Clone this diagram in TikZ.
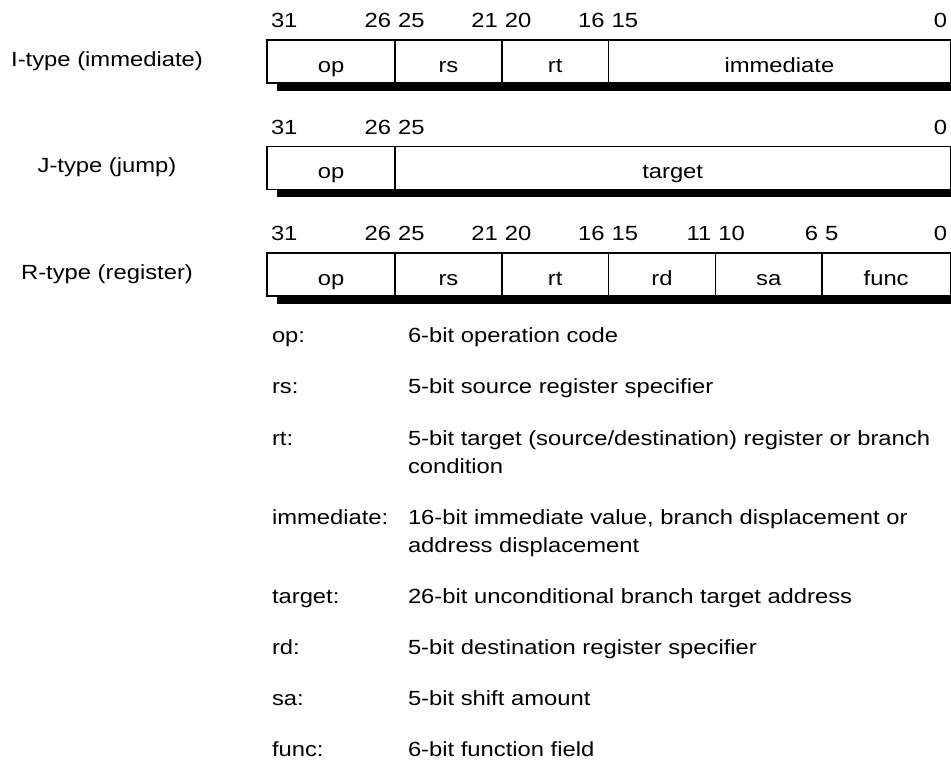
\documentclass[tikz,border=0pt]{standalone}
\usepackage{fontspec}
\setmainfont{Liberation Sans}[FakeStretch=1.16]
\begin{document}
\begin{tikzpicture}[x=1pt,y=-1pt,
  every node/.append style={font=\fontsize{20.5}{24}\selectfont, inner sep=0pt, outer sep=0pt},
  fld/.style={draw, line width=1.3pt, anchor=north west, minimum height=43pt, text height=21.5pt, text depth=0pt},
  shadowbar/.style={fill=black},
  num/.style={anchor=base west},
  numr/.style={anchor=base east},
  typelab/.style={anchor=base},
  desc/.style={anchor=base west}]
\useasboundingbox (0,0) rectangle (951,767);
\def\u{21.35}
\def\xl{267}
% ---------- I-type ----------
\def\top{40}
\fill[shadowbar] (\xl+10,\top+43) rectangle (951,\top+51);
\node[fld, minimum width=6*\u] (iop) at (\xl,\top) {op};
\node[fld, minimum width=5*\u] (irs) at (\xl+6*\u,\top) {rs};
\node[fld, minimum width=5*\u] (irt) at (\xl+11*\u,\top) {rt};
\node[fld, minimum width=16*\u] (iimm) at (\xl+16*\u,\top) {immediate};
\node[typelab] (ilab) at (107,\top+26.5) {I-type (immediate)};
\node[num] (i31) at (\xl+4,\top-12) {31};
\node[numr] (i26) at (\xl+6*\u-4,\top-12) {26};
\node[num] (i25) at (\xl+6*\u+3,\top-12) {25};
\node[numr] (i21) at (\xl+11*\u-4,\top-12) {21};
\node[num] (i20) at (\xl+11*\u+3,\top-12) {20};
\node[numr] (i16) at (\xl+16*\u-4,\top-12) {16};
\node[num] (i15) at (\xl+16*\u+3,\top-12) {15};
\node[numr] (i0) at (\xl+32*\u-3,\top-12) {0};
% ---------- J-type ----------
\def\top{146.5}
\fill[shadowbar] (\xl+10,\top+43) rectangle (951,\top+51);
\node[fld, minimum width=6*\u] (jop) at (\xl,\top) {op};
\node[fld, minimum width=26*\u] (jtgt) at (\xl+6*\u,\top) {target};
\node[typelab] (jlab) at (107,\top+26.5) {J-type (jump)};
\node[num] (j31) at (\xl+4,\top-12) {31};
\node[numr] (j26) at (\xl+6*\u-4,\top-12) {26};
\node[num] (j25) at (\xl+6*\u+3,\top-12) {25};
\node[numr] (j0) at (\xl+32*\u-3,\top-12) {0};
% ---------- R-type ----------
\def\top{253}
\fill[shadowbar] (\xl+10,\top+43) rectangle (951,\top+51);
\node[fld, minimum width=6*\u] (rop) at (\xl,\top) {op};
\node[fld, minimum width=5*\u] (rrs) at (\xl+6*\u,\top) {rs};
\node[fld, minimum width=5*\u] (rrt) at (\xl+11*\u,\top) {rt};
\node[fld, minimum width=5*\u] (rrd) at (\xl+16*\u,\top) {rd};
\node[fld, minimum width=5*\u] (rsa) at (\xl+21*\u,\top) {sa};
\node[fld, minimum width=6*\u] (rfn) at (\xl+26*\u,\top) {func};
\node[typelab] (rlab) at (107,\top+26.5) {R-type (register)};
\node[num] (r31) at (\xl+4,\top-12) {31};
\node[numr] (r26) at (\xl+6*\u-4,\top-12) {26};
\node[num] (r25) at (\xl+6*\u+3,\top-12) {25};
\node[numr] (r21) at (\xl+11*\u-4,\top-12) {21};
\node[num] (r20) at (\xl+11*\u+3,\top-12) {20};
\node[numr] (r16) at (\xl+16*\u-4,\top-12) {16};
\node[num] (r15) at (\xl+16*\u+3,\top-12) {15};
\node[numr] (r11) at (\xl+21*\u-4,\top-12) {11};
\node[num] (r10) at (\xl+21*\u+3,\top-12) {10};
\node[numr] (r6) at (\xl+26*\u-4,\top-12) {6};
\node[num] (r5) at (\xl+26*\u+3,\top-12) {5};
\node[numr] (r0) at (\xl+32*\u-3,\top-12) {0};
% ---------- legend ----------
\def\ca{272}
\def\cb{408}
\node[desc] (kop) at (\ca,343) {op:};
\node[desc] (dop) at (\cb,343) {6-bit operation code};
\node[desc] (krs) at (\ca,394) {rs:};
\node[desc] (drs) at (\cb,394) {5-bit source register specifier};
\node[desc] (krt) at (\ca,445) {rt:};
\node[desc] (drt) at (\cb,445) {5-bit target (source/destination) register or branch};
\node[desc] (drt2) at (\cb,473) {condition};
\node[desc] (kimm) at (\ca,524) {immediate:};
\node[desc] (dimm) at (\cb,524) {16-bit immediate value, branch displacement or};
\node[desc] (dimm2) at (\cb,552) {address displacement};
\node[desc] (ktgt) at (\ca,603) {target:};
\node[desc] (dtgt) at (\cb,603) {26-bit unconditional branch target address};
\node[desc] (krd) at (\ca,654) {rd:};
\node[desc] (drd) at (\cb,654) {5-bit destination register specifier};
\node[desc] (ksa) at (\ca,705) {sa:};
\node[desc] (dsa) at (\cb,705) {5-bit shift amount};
\node[desc] (kfn) at (\ca,756) {func:};
\node[desc] (dfn) at (\cb,756) {6-bit function field};
\end{tikzpicture}
\end{document}
